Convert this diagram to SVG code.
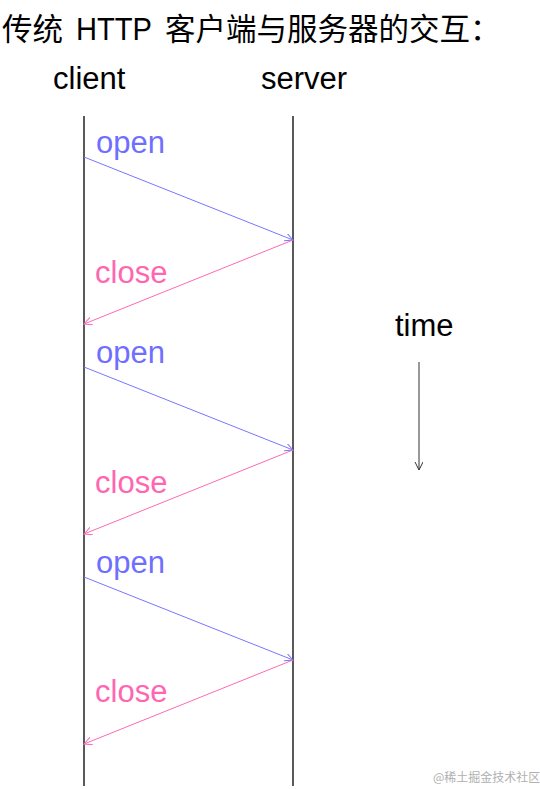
<svg xmlns="http://www.w3.org/2000/svg" width="540" height="789" viewBox="0 0 540 789">
<style>
.t{font-family:"Liberation Sans","Noto Sans CJK SC",sans-serif;font-size:31px;fill:#000}
.h{font-family:"Liberation Sans","Noto Sans CJK SC",sans-serif;font-size:30.5px;fill:#000}
.open{font-family:"Liberation Sans",sans-serif;font-size:31px;fill:#6f6fff}
.close{font-family:"Liberation Sans",sans-serif;font-size:31px;fill:#ff66b2}
.life{stroke:#000;stroke-width:1.3;fill:none}
.o{stroke:#7777ff;stroke-width:1;fill:none;marker-end:url(#ab)}
.c{stroke:#ff69b4;stroke-width:1;fill:none;marker-end:url(#ap)}
.wm{font-family:"Noto Sans CJK SC",sans-serif;font-size:12px;fill:#b0b0b0}
</style>
<defs>
<marker id="ab" markerWidth="10" markerHeight="10" refX="8" refY="4" orient="auto" markerUnits="userSpaceOnUse"><path d="M0,0 L8,4 L0,8" fill="none" stroke="#7777ff" stroke-width="1"/></marker>
<marker id="ap" markerWidth="10" markerHeight="10" refX="8" refY="4" orient="auto" markerUnits="userSpaceOnUse"><path d="M0,0 L8,4 L0,8" fill="none" stroke="#ff69b4" stroke-width="1"/></marker>
<marker id="ak" markerWidth="10" markerHeight="10" refX="8" refY="4" orient="auto" markerUnits="userSpaceOnUse"><path d="M0,0 L8,4 L0,8" fill="none" stroke="#333" stroke-width="1"/></marker>
</defs>
<rect width="540" height="789" fill="#fff"/>
<text class="h" x="2" y="40">传统<tspan x="76" textLength="76" lengthAdjust="spacingAndGlyphs">HTTP</tspan><tspan x="165">客户端与服务器的交互：</tspan></text>
<g id="client"><text class="t" x="53" y="89">client</text><line class="life" x1="84" y1="116" x2="84" y2="786"/></g>
<g id="server"><text class="t" x="261" y="89">server</text><line class="life" x1="293" y1="116" x2="293" y2="786"/></g>
<g id="time"><text class="t" x="395" y="336">time</text><line x1="419" y1="362" x2="419" y2="470" stroke="#333" stroke-width="1" marker-end="url(#ak)"/></g>
<g id="connectors">
<line class="o" x1="84" y1="157" x2="293" y2="240"/>
<line class="c" x1="293" y1="240" x2="84" y2="324"/>
<line class="o" x1="84" y1="367" x2="293" y2="450"/>
<line class="c" x1="293" y1="450" x2="84" y2="534"/>
<line class="o" x1="84" y1="577" x2="293" y2="660"/>
<line class="c" x1="293" y1="660" x2="84" y2="744"/>
</g>
<g id="labels">
<text class="open" x="96" y="153">open</text>
<text class="close" x="95" y="283">close</text>
<text class="open" x="96" y="363">open</text>
<text class="close" x="95" y="493">close</text>
<text class="open" x="96" y="573">open</text>
<text class="close" x="95" y="702">close</text>
</g>
<text class="wm" x="433" y="782">@稀土掘金技术社区</text>
</svg>
